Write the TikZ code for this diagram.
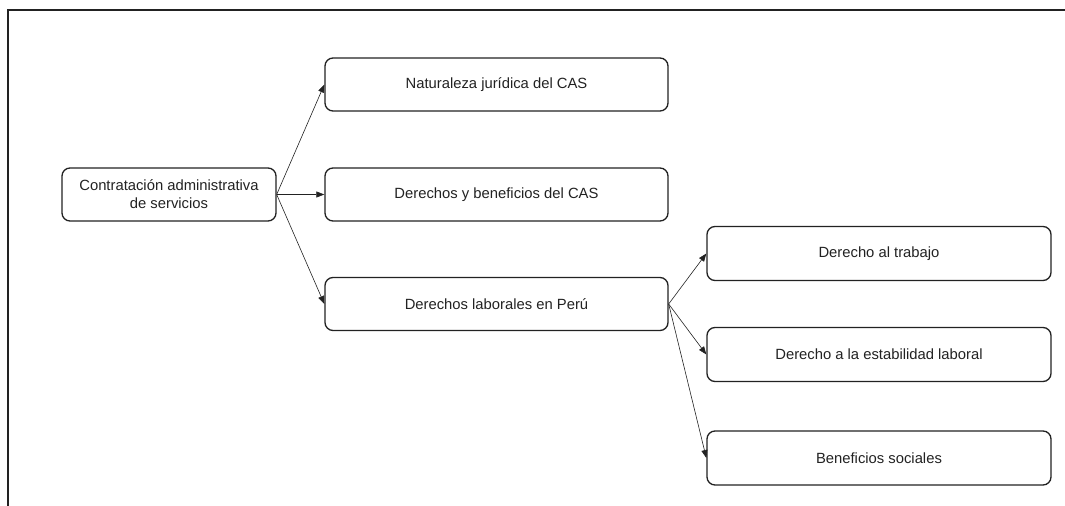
\documentclass[tikz,border=0pt]{standalone}
\usepackage{fontspec}
\setmainfont{Liberation Sans}
\usetikzlibrary{arrows.meta}
\definecolor{ink}{HTML}{222222}
\begin{document}
\begin{tikzpicture}[x=0.75pt,y=-0.75pt,
  box/.style={draw=ink,line width=1pt,rounded corners=6pt,align=center,text=ink,
    font=\fontsize{11.1}{13.5}\selectfont,inner sep=2pt},
  rootbox/.style={box,minimum width=160.5pt,minimum height=39.75pt},
  midbox/.style={box,minimum width=257.25pt,minimum height=39.75pt},
  leafbox/.style={box,minimum width=258pt,minimum height=40.5pt},
  arr/.style={draw=ink,line width=0.45pt,-{Triangle[length=6pt,width=4.5pt]}},
  frame/.style={draw=ink,line width=1.5pt}]
\useasboundingbox (0,0) rectangle (1065,506);
\coordinate (ftl) at (7.5,10.5);
\coordinate (ftr) at (1065,10.5);
\coordinate (fbl) at (7.5,506);
\draw[frame] (ftr) -- (ftl) -- (fbl);

\node[rootbox] (root) at (169,194.5) {Contratación administrativa\\de servicios};
\node[midbox] (nat) at (496.5,84.5) {Naturaleza jurídica del CAS};
\node[midbox] (der) at (496.5,194.5) {Derechos y beneficios del CAS};
\node[midbox] (lab) at (496.5,304) {Derechos laborales en Perú};
\node[leafbox] (tra) at (879,253.5) {Derecho al trabajo};
\node[leafbox] (est) at (879,354.5) {Derecho a la estabilidad laboral};
\node[leafbox] (ben) at (879,458) {Beneficios sociales};

\draw[arr] (root.east) -- (nat.west);
\draw[arr] (root.east) -- (der.west);
\draw[arr] (root.east) -- (lab.west);
\draw[arr] (lab.east) -- (tra.west);
\draw[arr] (lab.east) -- (est.west);
\draw[arr] (lab.east) -- (ben.west);
\end{tikzpicture}
\end{document}
